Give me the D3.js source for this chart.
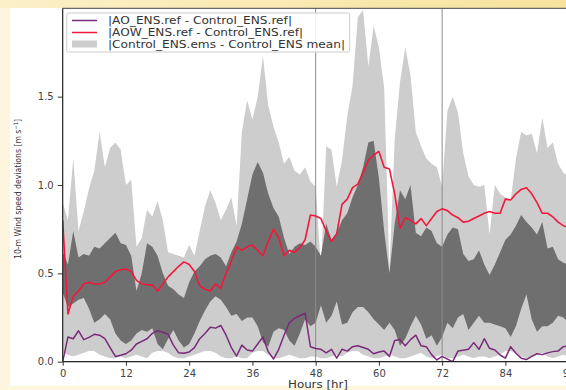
<!DOCTYPE html>
<html><head><meta charset="utf-8">
<script src="https://cdn.jsdelivr.net/npm/d3@7"></script>
<style>html,body{margin:0;padding:0;background:#fdf5de;} svg{display:block;}</style>
</head><body>
<svg id="c" width="566" height="390"></svg>
<script>
// ---- data (hourly) ----
const hours = [0,1,2,3,4,5,6,7,8,9,10,11,12,13,14,15,16,17,18,19,20,21,22,23,24,25,26,27,28,29,30,31,32,33,34,35,36,37,38,39,40,41,42,43,44,45,46,47,48,49,50,51,52,53,54,55,56,57,58,59,60,61,62,63,64,65,66,67,68,69,70,71,72,73,74,75,76,77,78,79,80,81,82,83,84,85,86,87,88,89,90,91,92,93,94,95,96,97,98,99,100];
const xTicks = [0,12,24,36,48,60,72,84,96];
const yTicks = [0,0.5,1.0,1.5];
const markerHours = [48,72];
const seriesNames = ["|AO_ENS.ref - Control_ENS.ref|","|AOW_ENS.ref - Control_ENS.ref|","|Control_ENS.ems - Control_ENS mean|"];

const aoDiff = [0.0,0.14,0.13,0.175,0.125,0.138,0.155,0.15,0.13,0.08,
 0.03,0.037,0.045,0.065,0.10,0.115,0.13,0.16,0.175,0.167,
 0.155,0.094,0.05,0.048,0.055,0.08,0.13,0.16,0.195,0.19,
 0.205,0.15,0.08,0.032,0.094,0.066,0.06,0.10,0.14,0.057,
 0.015,0.07,0.15,0.22,0.245,0.26,0.275,0.085,0.075,0.07,
 0.05,0.07,0.02,0.07,0.06,0.085,0.09,0.08,0.07,0.045,
 0.055,0.06,0.03,0.12,0.125,0.09,0.125,0.15,0.09,0.085,
 0.04,0.01,0.03,0.015,0.0,0.06,0.065,0.07,0.108,0.07,
 0.13,0.076,0.066,0.038,0.02,0.085,0.048,0.02,0.012,0.03,
 0.045,0.04,0.05,0.057,0.06,0.085,0.09,0.07,0.08,0.06,
 0.07];
const aowDiff = [0.80,0.27,0.37,0.40,0.44,0.45,0.44,0.44,0.45,0.48,
 0.51,0.52,0.525,0.51,0.46,0.44,0.435,0.435,0.40,0.44,
 0.48,0.51,0.54,0.565,0.55,0.51,0.43,0.41,0.40,0.44,
 0.415,0.50,0.57,0.65,0.63,0.65,0.66,0.63,0.60,0.68,
 0.75,0.70,0.60,0.63,0.62,0.645,0.69,0.83,0.825,0.81,
 0.74,0.68,0.725,0.89,0.92,0.985,1.005,1.07,1.14,1.17,
 1.19,1.10,1.09,0.95,0.755,0.815,0.80,0.78,0.81,0.77,
 0.81,0.85,0.865,0.855,0.83,0.815,0.79,0.795,0.81,0.825,
 0.84,0.85,0.84,0.84,0.92,0.915,0.95,0.975,0.985,0.95,
 0.90,0.84,0.84,0.82,0.79,0.77,0.76,0.77,0.75,0.76,
 0.74];
// ensemble spread: outer (light) and inner (dark) envelopes
const spreadOuterLow = [0.05,0.04,0.03,0.04,0.05,0.06,0.06,0.04,0.03,0.02,
 0.02,0.03,0.02,0.03,0.04,0.03,0.02,0.05,0.06,0.06,
 0.05,0.03,0.02,0.02,0.03,0.04,0.05,0.06,0.06,0.05,
 0.03,0.02,0.02,0.03,0.02,0.02,0.05,0.06,0.06,0.04,
 0.02,0.02,0.03,0.04,0.03,0.02,0.02,0.03,0.03,0.02,
 0.02,0.03,0.04,0.03,0.05,0.06,0.06,0.04,0.03,0.02,
 0.02,0.03,0.04,0.03,0.02,0.02,0.03,0.04,0.05,0.03,
 0.02,0.03,0.04,0.02,0.02,0.03,0.04,0.03,0.02,0.03,
 0.03,0.02,0.03,0.04,0.06,0.06,0.05,0.03,0.02,0.03,
 0.04,0.05,0.03,0.02,0.03,0.04,0.03,0.02,0.03,0.02,
 0.03];
const spreadOuterHigh = [0.90,0.80,1.15,0.74,0.85,0.98,1.08,1.30,1.10,1.21,
 1.24,1.20,1.00,1.03,0.65,0.70,0.86,0.82,0.91,0.80,
 0.62,0.61,0.60,0.59,0.66,0.60,0.74,0.88,0.97,0.90,
 0.80,0.86,0.93,0.77,1.30,1.48,1.37,1.50,1.73,1.45,
 1.33,1.24,1.12,1.16,1.08,1.06,1.10,1.02,0.99,0.53,
 1.22,1.20,0.99,1.14,1.39,1.56,1.95,1.99,1.67,1.90,
 1.78,1.55,0.52,1.26,1.58,1.78,1.62,1.30,1.22,1.15,
 1.12,1.10,0.99,1.42,1.50,1.41,1.18,1.05,1.00,0.99,
 1.00,0.72,1.00,0.95,0.93,0.91,1.15,1.30,1.28,1.29,
 1.18,1.38,1.21,1.24,1.12,1.07,1.05,1.10,1.00,1.05,
 0.98];
const spreadInnerLow = [0.39,0.31,0.33,0.35,0.36,0.30,0.22,0.24,0.27,0.24,
 0.16,0.12,0.10,0.12,0.16,0.18,0.17,0.19,0.10,0.07,
 0.13,0.18,0.12,0.08,0.10,0.16,0.23,0.29,0.34,0.37,
 0.35,0.31,0.26,0.27,0.23,0.25,0.25,0.20,0.11,0.085,
 0.17,0.19,0.18,0.12,0.09,0.16,0.24,0.20,0.22,0.32,
 0.22,0.26,0.34,0.21,0.22,0.28,0.31,0.31,0.28,0.24,
 0.21,0.18,0.22,0.18,0.09,0.13,0.20,0.26,0.21,0.13,
 0.15,0.09,0.14,0.22,0.19,0.25,0.27,0.18,0.22,0.26,
 0.22,0.22,0.21,0.20,0.19,0.14,0.20,0.30,0.38,0.24,
 0.17,0.20,0.20,0.22,0.26,0.25,0.22,0.24,0.20,0.22,
 0.21];
const spreadInnerHigh = [0.62,0.55,0.74,0.59,0.61,0.60,0.65,0.64,0.67,0.70,
 0.73,0.67,0.66,0.60,0.40,0.50,0.67,0.65,0.60,0.50,
 0.43,0.41,0.38,0.36,0.45,0.51,0.54,0.58,0.60,0.61,
 0.59,0.54,0.62,0.68,0.78,0.92,1.06,1.13,1.07,0.95,
 0.87,0.82,0.70,0.61,0.65,0.67,0.66,0.68,0.65,0.60,
 0.78,0.69,0.73,0.80,0.84,0.93,1.00,1.10,1.24,1.25,
 1.04,0.74,0.50,0.78,0.97,0.92,1.00,0.73,0.71,0.76,
 0.74,0.67,0.65,0.72,0.76,0.75,0.61,0.57,0.58,0.63,
 0.55,0.49,0.55,0.62,0.69,0.72,0.77,0.83,0.79,0.76,
 0.72,0.79,0.64,0.65,0.58,0.56,0.55,0.58,0.52,0.55,
 0.50];

// ---- drawing ----
const W = 566, H = 390;
const svg = d3.select('#c');
const defs = svg.append('defs');
const grad = defs.append('linearGradient').attr('id','topg').attr('x1','0').attr('x2','1').attr('y1','0').attr('y2','0');
grad.append('stop').attr('offset','0').attr('stop-color','#fcf0c8');
grad.append('stop').attr('offset','1').attr('stop-color','#f7e39e');

svg.append('rect').attr('width',W).attr('height',H).attr('fill','#fdf5de');
svg.append('rect').attr('width',W).attr('height',8).attr('fill','url(#topg)');
svg.append('rect').attr('x',10).attr('y',8).attr('width',W-10).attr('height',378).attr('fill','#ffffff');

const pLeft = 62.7, pTop = 8.3, pBottom = 361.7;
const x = d3.scaleLinear().domain([0,100]).range([pLeft, pLeft + 527]);
const y = d3.scaleLinear().domain([0,2]).range([pBottom, pTop]);

defs.append('clipPath').attr('id','plotclip').append('rect')
  .attr('x',pLeft).attr('y',pTop).attr('width',600).attr('height',pBottom-pTop);

const plot = svg.append('g').attr('clip-path','url(#plotclip)');

const bandOuter = d3.area().x((d,i)=>x(hours[i])).y0((d,i)=>y(spreadOuterLow[i])).y1((d,i)=>y(spreadOuterHigh[i]));
const bandInner = d3.area().x((d,i)=>x(hours[i])).y0((d,i)=>y(spreadInnerLow[i])).y1((d,i)=>y(spreadInnerHigh[i]));
plot.append('path').datum(hours).attr('d',bandOuter).attr('fill','#cdcdcd');
plot.append('path').datum(hours).attr('d',bandInner).attr('fill','#6f6f6f');

plot.selectAll('line.mark').data(markerHours).enter().append('line')
  .attr('class','mark').attr('x1',d=>x(d)).attr('x2',d=>x(d)).attr('y1',pTop).attr('y2',pBottom)
  .attr('stroke','#8c8c8c').attr('stroke-width',1);

const lineGen = arr => d3.line().x((d,i)=>x(hours[i])).y((d,i)=>y(arr[i]))(hours);
plot.append('path').attr('d',lineGen(aoDiff)).attr('fill','none').attr('stroke','#7b2a7b').attr('stroke-width',1.5).attr('stroke-linejoin','round');
plot.append('path').attr('d',lineGen(aowDiff)).attr('fill','none').attr('stroke','#f2183c').attr('stroke-width',1.6).attr('stroke-linejoin','round');

// axes
const font = "'DejaVu Sans', sans-serif";
const yAxis = svg.append('g').attr('transform',`translate(${pLeft},0)`)
  .call(d3.axisLeft(y).tickValues(yTicks).tickFormat(d3.format('.1f')).tickSize(5).tickPadding(4));
const xAxis = svg.append('g').attr('transform',`translate(0,${pBottom})`)
  .call(d3.axisBottom(x).tickValues(xTicks).tickFormat(d3.format('d')).tickSize(4).tickPadding(4));
[yAxis,xAxis].forEach(a=>{
  a.select('.domain').remove();
  a.selectAll('line').attr('stroke','#333');
  a.selectAll('text').attr('fill','#444').style('font-family',font).style('font-size','10px');
});
// spines
svg.append('line').attr('x1',pLeft).attr('x2',pLeft).attr('y1',pTop).attr('y2',pBottom).attr('stroke','#222').attr('stroke-width',1.2);
svg.append('line').attr('x1',pLeft).attr('x2',W).attr('y1',pBottom).attr('y2',pBottom).attr('stroke','#222').attr('stroke-width',1.2);
svg.append('line').attr('x1',pLeft).attr('x2',W).attr('y1',pTop).attr('y2',pTop).attr('stroke','#444').attr('stroke-width',1);

// labels
svg.append('text').attr('x',318).attr('y',388).attr('text-anchor','middle')
  .style('font-family',font).style('font-size','11px').attr('fill','#333')
  .attr('textLength',60).attr('lengthAdjust','spacingAndGlyphs').text('Hours [hr]');
const yl = svg.append('text').attr('transform','translate(21,189) rotate(-90)').attr('text-anchor','middle')
  .style('font-family',font).style('font-size','9px').attr('fill','#333')
  .attr('textLength',140).attr('lengthAdjust','spacingAndGlyphs');
yl.append('tspan').text('10-m Wind speed deviations [m s');
yl.append('tspan').attr('baseline-shift','super').style('font-size','6px').text('\u22121');
yl.append('tspan').text(']');

// legend
const lg = svg.append('g');
lg.append('rect').attr('x',66.7).attr('y',13).attr('width',283).attr('height',39).attr('rx',2)
  .attr('fill','#ffffff').attr('fill-opacity',0.85).attr('stroke','#cccccc');
const rows = [20.5, 32.5, 44];
const lens = [184, 195, 237];
lg.append('line').attr('x1',72).attr('x2',97).attr('y1',rows[0]).attr('y2',rows[0]).attr('stroke','#7b2a7b').attr('stroke-width',1.5);
lg.append('line').attr('x1',72).attr('x2',97).attr('y1',rows[1]).attr('y2',rows[1]).attr('stroke','#f2183c').attr('stroke-width',1.5);
lg.append('rect').attr('x',72).attr('y',rows[2]-3.5).attr('width',25).attr('height',7).attr('fill','#cdcdcd');
seriesNames.forEach((s,i)=>{
  lg.append('text').attr('x',108).attr('y',rows[i]+3.6).style('font-family',font).style('font-size','10px')
    .attr('fill','#333').attr('textLength',lens[i]).attr('lengthAdjust','spacingAndGlyphs').text(s);
});
</script>
</body></html>
